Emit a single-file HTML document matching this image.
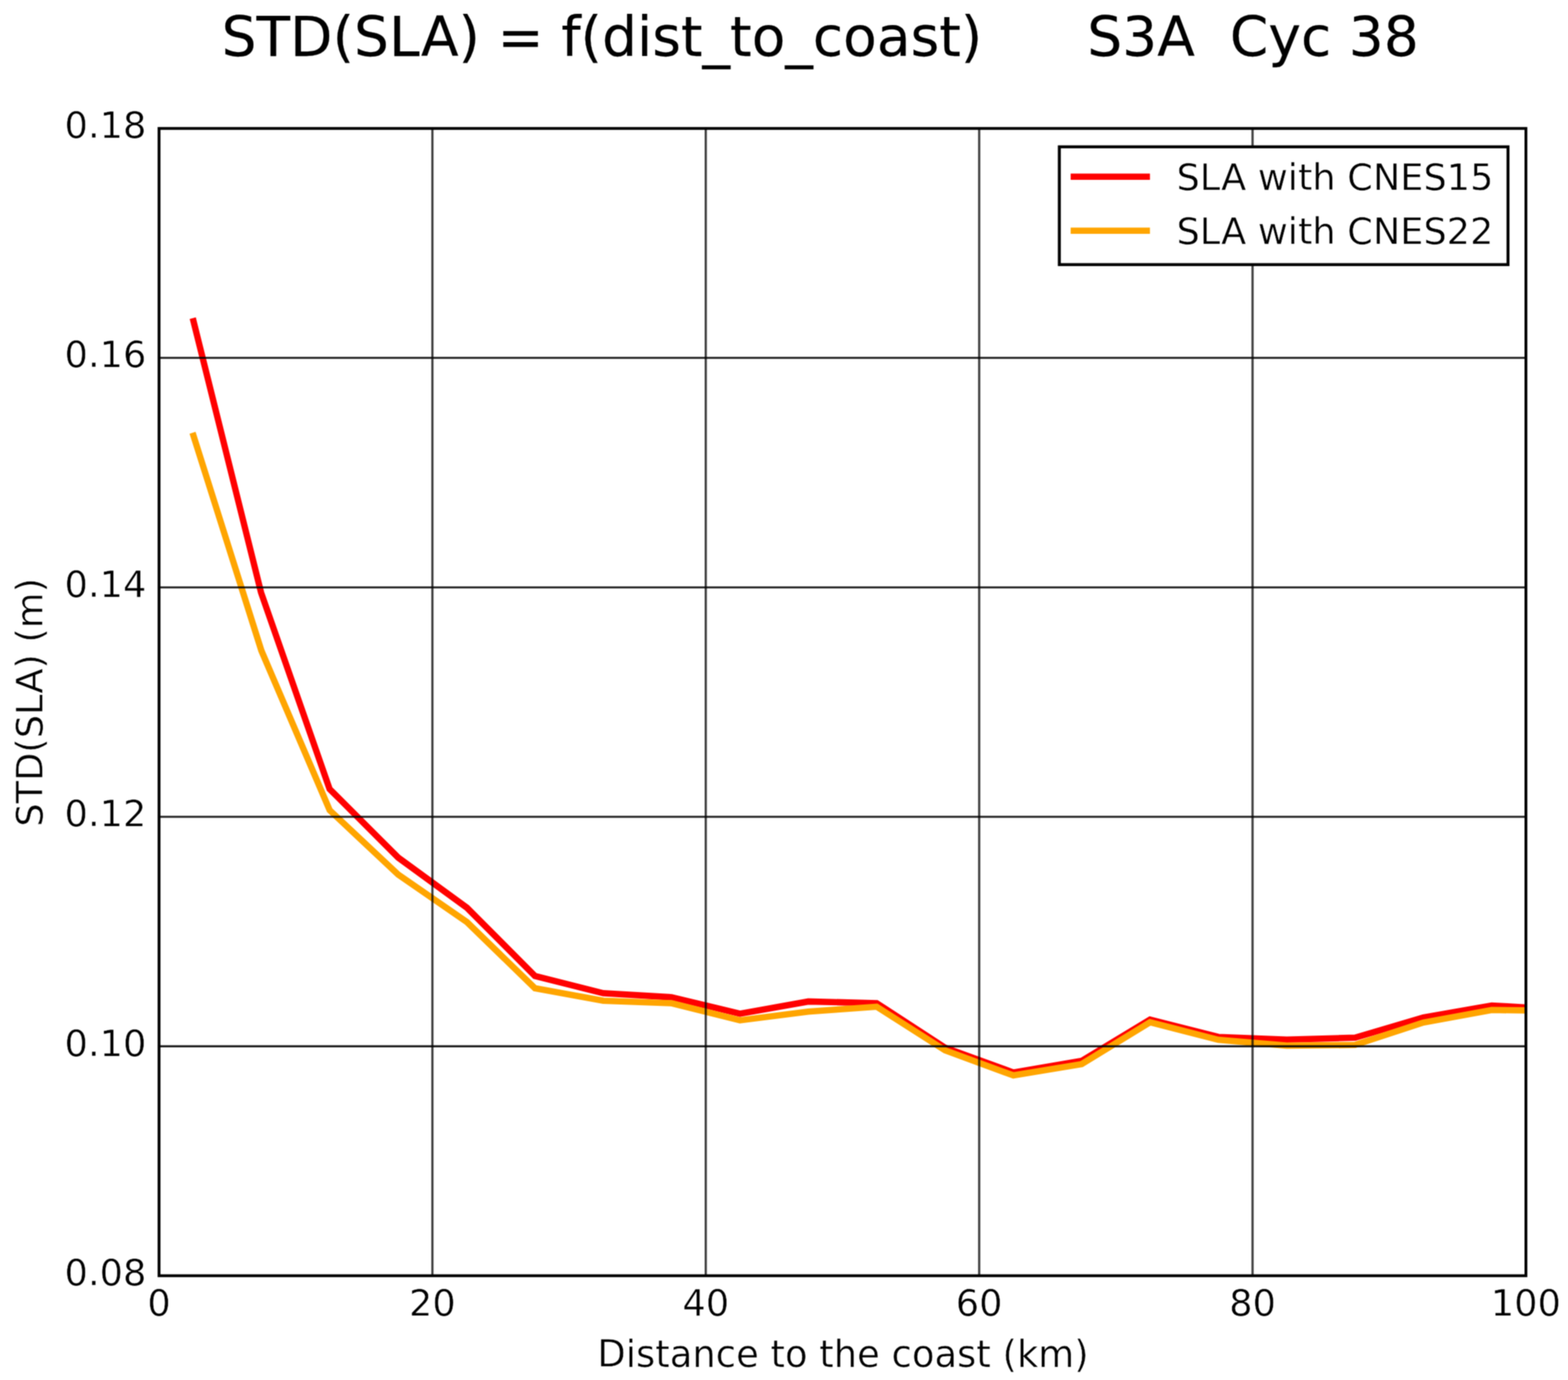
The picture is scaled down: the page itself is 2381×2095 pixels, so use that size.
<!DOCTYPE html>
<html lang="en">
<head>
<meta charset="utf-8">
<title>STD(SLA) = f(dist_to_coast) S3A Cyc 38</title>
<style>
html,body{margin:0;padding:0;background:#fff;}
body{width:2381px;height:2095px;}
svg{display:block;}
text{font-family:"DejaVu Sans","Liberation Sans",sans-serif;fill:#000;white-space:pre;}
.t{stroke:#000;stroke-width:0.25px;}
.l{stroke:#fff;stroke-width:0.60px;}
</style>
</head>
<body>
<svg width="2381" height="2095" viewBox="0 0 2381 2095">
<rect x="0" y="0" width="2381" height="2095" fill="#ffffff"/>
<defs>
<clipPath id="c"><rect x="241.5" y="195.0" width="2075.6" height="1741.7"/></clipPath>
<filter id="b" x="0" y="0" width="2381" height="2095" filterUnits="userSpaceOnUse" color-interpolation-filters="sRGB"><feConvolveMatrix order="3" kernelMatrix="1 2 1 2 4 2 1 2 1" divisor="16" edgeMode="duplicate" preserveAlpha="false"/></filter>
</defs>
<g filter="url(#b)">
<rect x="0" y="0" width="2381" height="2095" fill="#ffffff"/>
<text class="t" font-size="83.60" x="336.50" y="84.90" xml:space="preserve">STD(SLA) = f(dist_to_coast)      S3A  Cyc 38</text>
<g clip-path="url(#c)" fill="none" stroke-width="9.60" stroke-linejoin="miter" stroke-linecap="butt">
<polyline stroke="#ff0000" points="292.7,483.0 396.4,899.5 500.5,1197.8 604.7,1302.0 709.0,1378.0 812.3,1481.6 916.1,1507.8 1019.9,1513.9 1123.6,1538.9 1227.4,1520.4 1331.2,1522.9 1435.0,1590.6 1538.8,1628.2 1642.5,1610.6 1746.3,1548.0 1850.1,1574.2 1953.9,1578.2 2057.7,1575.3 2161.4,1544.6 2265.2,1526.5 2369.0,1532.4"/>
<polyline stroke="#ffa500" points="292.4,657.0 397.0,988.0 500.6,1230.0 604.7,1327.8 709.0,1399.8 812.3,1500.3 916.1,1519.3 1019.9,1523.0 1123.6,1548.9 1227.4,1535.8 1331.2,1528.3 1435.0,1594.5 1538.8,1632.6 1642.5,1615.4 1746.3,1551.9 1850.1,1578.6 1953.9,1587.4 2057.7,1586.3 2161.4,1552.3 2265.2,1533.3 2369.0,1534.5"/>
</g>
<g stroke="#000" stroke-width="3.40" stroke-opacity="0.75" fill="none">
<line x1="656.6" y1="195.0" x2="656.6" y2="1936.7"/>
<line x1="1071.7" y1="195.0" x2="1071.7" y2="1936.7"/>
<line x1="1486.9" y1="195.0" x2="1486.9" y2="1936.7"/>
<line x1="1902.0" y1="195.0" x2="1902.0" y2="1936.7"/>
</g>
<g stroke="#000" stroke-width="3.10" stroke-opacity="0.88" fill="none">
<line x1="241.5" y1="543.3" x2="2317.1" y2="543.3"/>
<line x1="241.5" y1="891.7" x2="2317.1" y2="891.7"/>
<line x1="241.5" y1="1240.0" x2="2317.1" y2="1240.0"/>
<line x1="241.5" y1="1588.4" x2="2317.1" y2="1588.4"/>
</g>
<rect x="241.5" y="195.0" width="2075.6" height="1741.7" fill="none" stroke="#000" stroke-width="4.30"/>
<text class="l" font-size="55.80" x="98.10" y="209.15">0.18</text>
<text class="l" font-size="55.80" x="98.10" y="557.49">0.16</text>
<text class="l" font-size="55.80" x="98.10" y="905.83">0.14</text>
<text class="l" font-size="55.80" x="98.10" y="1254.17">0.12</text>
<text class="l" font-size="55.80" x="98.10" y="1602.51">0.10</text>
<text class="l" font-size="55.80" x="98.10" y="1950.85">0.08</text>
<text class="l" font-size="55.80" x="241.50" y="1997.15" text-anchor="middle">0</text>
<text class="l" font-size="55.80" x="656.62" y="1997.15" text-anchor="middle">20</text>
<text class="l" font-size="55.80" x="1071.74" y="1997.15" text-anchor="middle">40</text>
<text class="l" font-size="55.80" x="1486.86" y="1997.15" text-anchor="middle">60</text>
<text class="l" font-size="55.80" x="1901.98" y="1997.15" text-anchor="middle">80</text>
<text class="l" font-size="55.80" x="2317.10" y="1997.15" text-anchor="middle">100</text>
<text class="l" font-size="56.05" x="907.10" y="2075.40">Distance to the coast (km)</text>
<text class="l" font-size="55.80" transform="translate(64.10,1255.10) rotate(-90)">STD(SLA) (m)</text>
<rect x="1608.6" y="222.9" width="681.3" height="178.8" fill="#fff" stroke="#000" stroke-width="4.50"/>
<line x1="1625.8" y1="268.3" x2="1746.2" y2="268.3" stroke="#ff0000" stroke-width="9.60"/>
<line x1="1625.8" y1="350.2" x2="1746.2" y2="350.2" stroke="#ffa500" stroke-width="9.60"/>
<text class="l" font-size="55.70" x="1786.50" y="288.30">SLA with CNES15</text>
<text class="l" font-size="55.70" x="1786.50" y="369.50">SLA with CNES22</text>
</g>
</svg>
</body>
</html>
